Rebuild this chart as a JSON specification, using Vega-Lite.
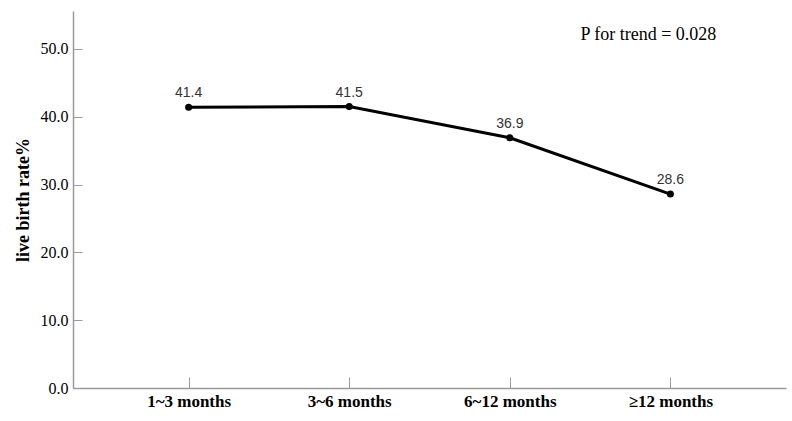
{
  "$schema": "https://vega.github.io/schema/vega-lite/v6.json",
  "autosize": "none",
  "width": 713,
  "height": 377,
  "padding": {"left": 73, "top": 11, "right": 6, "bottom": 33},
  "background": "white",
  "config": {"view": {"stroke": null}},
  "datasets": {
    "rates": [
      {"group": "1~3 months", "rate": 41.4},
      {"group": "3~6 months", "rate": 41.5},
      {"group": "6~12 months", "rate": 36.9},
      {"group": "≥12 months", "rate": 28.6}
    ],
    "note": [
      {"group": "≥12 months", "rate": 52.1, "label": "P for trend = 0.028"}
    ]
  },
  "data": {"name": "rates"},
  "encoding": {
    "x": {
      "field": "group",
      "type": "ordinal",
      "sort": null,
      "scale": {"type": "point", "padding": 0.72},
      "axis": {
        "title": null,
        "labelAngle": 0,
        "labelFont": "Liberation Serif",
        "labelFontWeight": "bold",
        "labelFontSize": 17,
        "labelColor": "#000000",
        "labelPadding": 16,
        "domainColor": "#9a9a9a",
        "domainWidth": 1.5,
        "tickColor": "#9a9a9a",
        "tickSize": -11,
        "grid": false
      }
    },
    "y": {
      "field": "rate",
      "type": "quantitative",
      "scale": {"domain": [0, 55.6], "nice": false},
      "axis": {
        "title": "live birth rate%",
        "titleFont": "Liberation Serif",
        "titleFontWeight": "bold",
        "titleFontSize": 18,
        "titleColor": "#000000",
        "titlePadding": 8,
        "values": [0, 10, 20, 30, 40, 50],
        "format": ".1f",
        "labelFont": "Liberation Serif",
        "labelFontSize": 16,
        "labelColor": "#000000",
        "labelPadding": 14,
        "domainColor": "#9a9a9a",
        "domainWidth": 1.5,
        "tickColor": "#9a9a9a",
        "tickSize": -9,
        "grid": false
      }
    }
  },
  "layer": [
    {"mark": {"type": "line", "color": "#000000", "strokeWidth": 3}},
    {"mark": {"type": "point", "filled": true, "color": "#000000", "size": 50, "opacity": 1}},
    {
      "mark": {"type": "text", "dy": -14, "font": "Liberation Sans", "fontSize": 14, "color": "#333333"},
      "encoding": {"text": {"field": "rate", "type": "quantitative", "format": ".1f"}}
    },
    {
      "data": {"name": "note"},
      "mark": {"type": "text", "font": "Liberation Serif", "fontSize": 18, "color": "#000000", "dx": -22, "align": "center", "baseline": "middle"},
      "encoding": {
        "text": {"field": "label", "type": "nominal"}
      }
    }
  ]
}
